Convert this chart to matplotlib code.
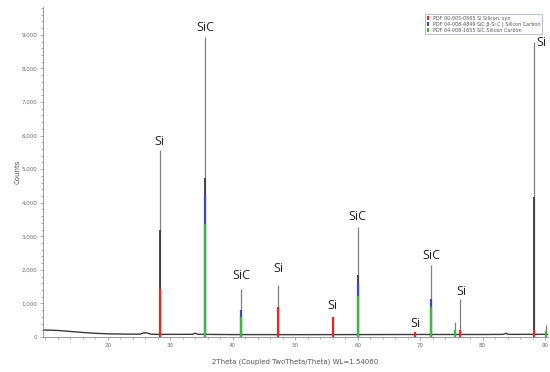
import numpy as np
import matplotlib
matplotlib.use("Agg")
import matplotlib.pyplot as plt
from matplotlib.ticker import MultipleLocator, FuncFormatter
from matplotlib.patches import Patch

# ---------------- data ----------------
bg_theta = [9.7, 12, 14, 16, 18, 20, 23, 25.2, 25.8, 26.3, 26.9, 28, 33.6, 34.0, 34.4,
            40, 50, 60, 70, 80, 83.3, 83.7, 84.1, 90.5]
bg_counts = [210, 195, 165, 135, 110, 95, 85, 85, 125, 120, 85, 78, 80, 115, 80,
             72, 70, 72, 75, 75, 78, 110, 78, 80]

peak_theta = [28.4, 35.65, 41.4, 47.3, 56.1, 60.0, 69.2, 71.8, 75.6, 76.45, 88.2, 90.2]
peak_top = [5565, 8930, 1430, 1550, 595, 3270, 150, 2140, 450, 1130, 8780, 360]
peak_dark = [3185, 4730, 0, 0, 0, 1850, 0, 0, 0, 0, 4170, 0]

si_theta = [28.4, 47.3, 56.1, 69.2, 76.45, 88.2]
si_counts = [1430, 890, 595, 150, 210, 210]
sic_beta_theta = [35.65, 41.4, 60.0, 71.8]
sic_beta_counts = [4225, 800, 1600, 1130]
sic_theta = [35.65, 41.4, 60.0, 71.8, 75.6, 90.2]
sic_counts = [3360, 600, 1220, 890, 200, 180]

label_text = ["Si", "SiC", "SiC", "Si", "Si", "SiC", "Si", "SiC", "Si", "Si"]
label_theta = [28.25, 35.6, 41.4, 47.3, 56.0, 60.0, 69.3, 71.85, 76.6, 88.6]
label_counts = [5820, 9230, 1840, 2030, 950, 3600, 390, 2440, 1370, 8780]

legend_labels = ["PDF 00-005-0565 Si Silicon, syn",
                 "PDF 04-008-4849 SiC β-Si C | Silicon Carbon",
                 "PDF 04-008-1655 SiC Silicon Carbon"]

RED, BLUE, GREEN = "#e5262b", "#3a4cc0", "#3db83d"

# ---------------- figure ----------------
fig = plt.figure(figsize=(5.5, 3.72), dpi=100)
ax = fig.add_axes([0.0782, 0.0941, 0.918, 0.887])

# background pattern
ax.plot(bg_theta, bg_counts, color="#3a3a3a", lw=1.0, zorder=2)
# peaks (light upper line, darker lower body)
ax.vlines(peak_theta, 0, peak_top, color="#808080", lw=0.9, zorder=2)
ax.vlines(peak_theta, 0, peak_dark, color="#3c3c3c", lw=1.3, zorder=3)
# reference sticks
ax.vlines(sic_beta_theta, 0, sic_beta_counts, color=BLUE, lw=1.6, zorder=4)
ax.vlines(sic_theta, 0, sic_counts, color=GREEN, lw=1.6, zorder=5)
ax.vlines(si_theta, 0, si_counts, color=RED, lw=1.6, zorder=5)

for t, x, y in zip(label_text, label_theta, label_counts):
    ha = "left" if x > 88 else "center"
    ax.text(x, y, t, ha=ha, va="center", fontsize=9, family="Open Sans",
            color="#222222", clip_on=False)

ax.set_xlim(9.65, 90.45)
ax.set_ylim(0, 9830)

for s in ("top", "right"):
    ax.spines[s].set_visible(False)
for s in ("left", "bottom"):
    ax.spines[s].set_color("#8a8a8a")
    ax.spines[s].set_linewidth(0.6)

ax.xaxis.set_major_locator(MultipleLocator(10))
ax.xaxis.set_minor_locator(MultipleLocator(2))
ax.yaxis.set_major_locator(MultipleLocator(1000))
ax.yaxis.set_minor_locator(MultipleLocator(200))
ax.yaxis.set_major_formatter(FuncFormatter(lambda v, p: f"{int(v):,}"))
ax.xaxis.set_major_formatter(FuncFormatter(lambda v, p: "" if v < 15 else f"{int(v)}"))
ax.tick_params(which="both", colors="#8a8a8a", labelcolor="#6a6a6a",
               labelsize=4, width=0.5, direction="out")
ax.tick_params(which="major", length=2.5, pad=1.5)
ax.tick_params(which="minor", length=1.5)

ax.set_ylabel("Counts", fontsize=5, color="#555555", labelpad=1)
ax.set_xlabel("2Theta (Coupled TwoTheta/Theta) WL=1.54060", fontsize=5,
              color="#555555", labelpad=8)

handles = [Patch(facecolor=c, edgecolor="none") for c in (RED, BLUE, GREEN)]
leg = fig.legend(handles, legend_labels, loc="upper left",
                 bbox_to_anchor=(423 / 550, 1 - 11.5 / 372), fontsize=3.55,
                 handlelength=0.35, handleheight=0.9, handletextpad=0.8,
                 labelspacing=0.15, borderpad=0.35, frameon=True,
                 fancybox=False, labelcolor="#555555")
leg.get_frame().set_edgecolor("#9aa6b8")
leg.get_frame().set_linewidth(0.6)

fig.savefig("out.png", dpi=100)
